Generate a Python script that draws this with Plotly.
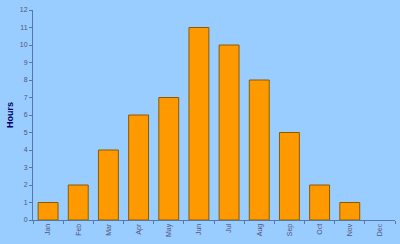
import plotly.graph_objects as go

months = ["Jan","Feb","Mar","Apr","May","Jun","Jul","Aug","Sep","Oct","Nov","Dec"]
hours = [1,2,4,6,7,11,10,8,5,2,1,0]

fig = go.Figure(go.Bar(
    x=months, y=hours,
    marker=dict(color="#FF9900",
                line=dict(color="#8B5A00", width=[1 if h > 0 else 0 for h in hours])),
    width=0.66,
))
fig.update_layout(
    width=400, height=244,
    margin=dict(l=33, r=5, t=10, b=24),
    paper_bgcolor="#99CCFF", plot_bgcolor="#99CCFF",
    showlegend=False,
    font=dict(family="Liberation Sans, Arial", size=7, color="#555577"),
)
fig.update_xaxes(
    tickangle=-90, showline=True, linecolor="#5577AA", linewidth=1,
    ticks="outside", ticklen=3, tickcolor="#5577AA", tickson="boundaries",
    showgrid=False, range=[-0.5, 11.5],
)
fig.update_yaxes(
    range=[0, 12], dtick=1, showline=True, linecolor="#5577AA", linewidth=1,
    ticks="outside", ticklen=3, tickcolor="#5577AA", showgrid=False, zeroline=False,
    title=dict(text="<b>Hours</b>", font=dict(size=9, color="#000066"), standoff=4),
)
fig.write_html("out.html")
